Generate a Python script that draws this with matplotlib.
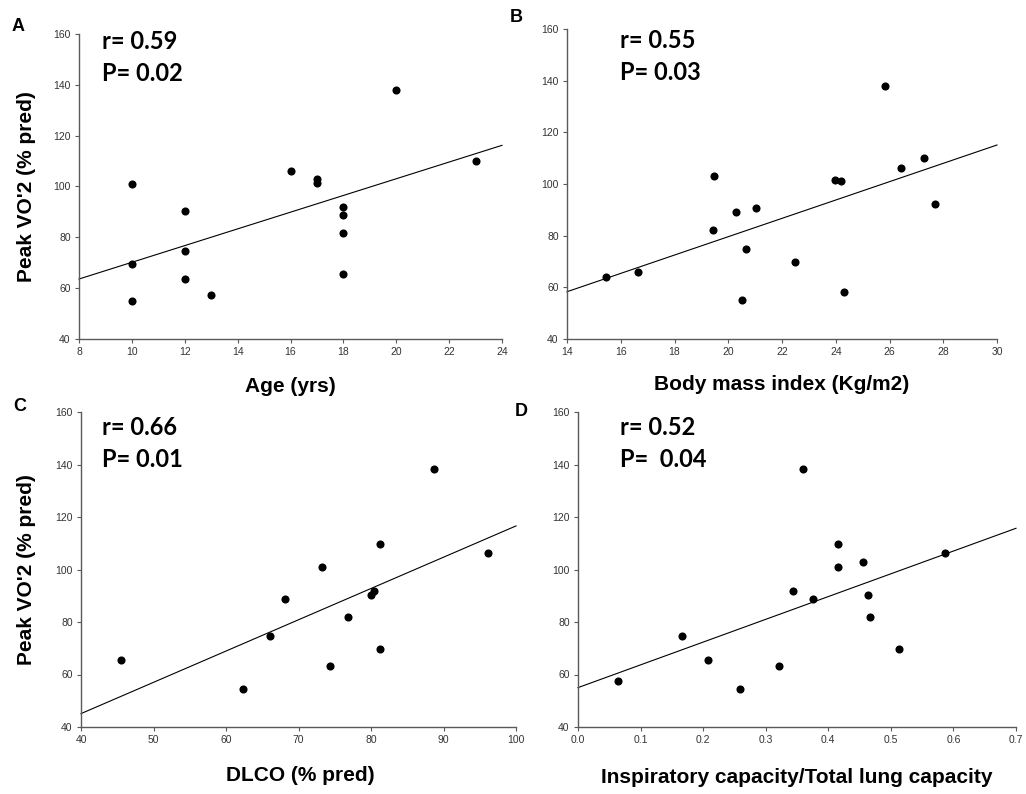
import numpy as np
import matplotlib
matplotlib.use('Agg')
import matplotlib.pyplot as plt

# panel A: age
age = [10, 10, 10, 12, 12, 12, 13, 16, 17, 17, 18, 18, 18, 18, 20, 23]
vo2_age = [100.9, 69.6, 54.8, 90.3, 74.7, 63.6, 57.4, 106.0, 102.9, 101.2,
           92.1, 88.9, 81.9, 65.5, 137.9, 110.0]
line_age = ([8, 24], [63.6, 116.2])

# panel B: body mass index
bmi = [15.46, 16.64, 19.42, 19.47, 20.27, 21.03, 20.67, 20.53, 22.5, 23.99,
       24.2, 24.32, 25.85, 26.41, 27.27, 27.68]
vo2_bmi = [63.9, 65.8, 82.1, 103.0, 89.2, 90.6, 75.0, 55.0, 69.8, 101.7,
           101.2, 58.0, 137.8, 106.3, 110.2, 92.4]
line_bmi = ([14, 30], [58.3, 115.1])

# panel C: DLCO
dlco = [45.5, 62.3, 66.1, 68.2, 73.3, 74.4, 76.8, 80.0, 80.4, 81.2, 81.2,
        88.7, 96.1]
vo2_dlco = [65.4, 54.6, 74.8, 88.6, 100.9, 63.3, 81.9, 90.1, 92.0, 109.9,
            69.7, 138.1, 106.1]
line_dlco = ([40, 100], [45.1, 116.6])

# panel D: IC/TLC
ic_tlc = [0.064, 0.167, 0.208, 0.259, 0.321, 0.343, 0.360, 0.376, 0.415,
          0.415, 0.455, 0.463, 0.466, 0.513, 0.587]
vo2_ic = [57.4, 74.6, 65.4, 54.6, 63.3, 92.0, 138.1, 88.6, 109.9, 100.8,
          102.8, 90.2, 81.9, 69.7, 106.1]
line_ic = ([0, 0.7], [55.0, 115.7])

W, H = 1026, 794
fig = plt.figure(figsize=(W / 100, H / 100), dpi=100)

def px(x, y):
    return x / W, 1 - y / H

def add_axes(l, t, r, b):
    return fig.add_axes([l / W, 1 - b / H, (r - l) / W, (b - t) / H])

spine_col = '#5a5a5a'
tick_col = '#333333'

panels = [
    # letter, axes box, data, line, xlim, xticks, xfmt, stats, xlabel
    ('A', (79, 34, 502, 339), age, vo2_age, line_age, (8, 24),
     np.arange(8, 25, 2), '%d', ('r= 0.59', 'P= 0.02'), 'Age (yrs)'),
    ('B', (567, 29, 997, 339), bmi, vo2_bmi, line_bmi, (14, 30),
     np.arange(14, 31, 2), '%d', ('r= 0.55', 'P= 0.03'), 'Body mass index (Kg/m2)'),
    ('C', (81, 412, 516, 727), dlco, vo2_dlco, line_dlco, (40, 100),
     np.arange(40, 101, 10), '%d', ('r= 0.66', 'P= 0.01'), 'DLCO (% pred)'),
    ('D', (578, 412, 1016, 727), ic_tlc, vo2_ic, line_ic, (0, 0.7),
     np.arange(0, 0.71, 0.1), '%.1f', ('r= 0.52', 'P=  0.04'),
     'Inspiratory capacity/Total lung capacity'),
]

letter_pos = {'A': (12, 31), 'B': (510, 22), 'C': (13, 411), 'D': (515, 416)}
stat_pos = {'A': (102, 49, 81), 'B': (620, 48, 80),
            'C': (102, 435, 467), 'D': (620, 435, 467)}
xlab_pos = {'A': (290, 392), 'B': (782, 390), 'C': (300, 781), 'D': (797, 783)}

for letter, box, xs, ys, line, xlim, xticks, xfmt, stats, xlabel in panels:
    ax = add_axes(*box)
    ax.scatter(xs, ys, s=34, color='black', zorder=3, linewidths=0)
    ax.plot(line[0], line[1], color='black', lw=0.8, clip_on=False)
    ax.set_xlim(*xlim)
    ax.set_ylim(40, 160)
    ax.set_xticks(xticks)
    ax.set_xticklabels([xfmt % v for v in xticks])
    ax.set_yticks(np.arange(40, 161, 20))
    for s in ['top', 'right']:
        ax.spines[s].set_visible(False)
    for s in ['left', 'bottom']:
        ax.spines[s].set_color(spine_col)
        ax.spines[s].set_linewidth(1.0)
    ax.tick_params(direction='out', length=3, width=0.8, color=spine_col,
                   labelsize=7.5, labelcolor=tick_col, pad=3,
                   labelfontfamily='Liberation Sans')
    ax.patch.set_alpha(0)

    lx, ly = letter_pos[letter]
    fig.text(*px(lx, ly), letter, fontsize=13, fontweight='bold',
             family='Liberation Sans', va='baseline', ha='left')
    sx, sy1, sy2 = stat_pos[letter]
    fig.text(*px(sx, sy1), stats[0], fontsize=17, fontweight='bold',
             family='Lato', va='baseline', ha='left')
    fig.text(*px(sx, sy2), stats[1], fontsize=17, fontweight='bold',
             family='Lato', va='baseline', ha='left')
    xx, xy = xlab_pos[letter]
    fig.text(*px(xx, xy), xlabel, fontsize=15, fontweight='bold',
             family='Liberation Sans', va='baseline', ha='center')
    if letter in ('A', 'C'):
        cy = (box[1] + box[3]) / 2
        fig.text(*px(27, cy), "Peak VO'2 (% pred)", fontsize=15,
                 fontweight='bold', family='Liberation Sans', rotation=90,
                 va='center', ha='center')

fig.savefig('out.png', dpi=100)
